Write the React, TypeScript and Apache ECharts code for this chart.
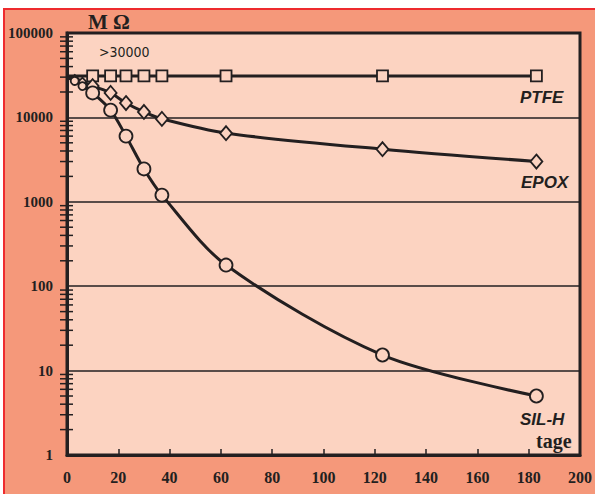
import React, { useEffect, useRef } from "react";
import * as echarts from "echarts";

const X_TICKS_MAX = 200;
const Y_LABELS = ["1", "10", "100", "1000", "10000", "100000"];

const PTFE_DAYS = [0, 10, 17, 23, 30, 37, 62, 123, 183];
const PTFE_VALUES = [31000, 31000, 31000, 31000, 31000, 31000, 31000, 31000, 31000];

const EPOX_DAYS = [0, 3, 6, 10, 17, 23, 30, 37, 62, 123, 183];
const EPOX_VALUES = [30000, 28500, 26500, 23500, 19500, 14800, 11600, 9600, 6500, 4200, 3000];

const SIL_DAYS = [0, 3, 6, 10, 17, 23, 30, 37, 62, 123, 183];
const SIL_VALUES = [30000, 27000, 23500, 19500, 12200, 6000, 2450, 1200, 178, 15.3, 5.0];

const SMALL_DAYS = [3, 6];

const MINOR_TICKS: number[] = [];
for (let k = 0; k < 5; k++) {
  for (let m = 2; m <= 9; m++) MINOR_TICKS.push(m * Math.pow(10, k));
}

const INK = "#231F20";
const INNER = "#FCD3C1";
const OUTER = "#F5987A";

function build(days: number[], vals: number[]) {
  return days.map((d, i) => {
    const item: any = { value: [d, vals[i]] };
    if (i === 0) item.symbol = "none";
    if (SMALL_DAYS.includes(d)) item.symbolSize = 8;
    return item;
  });
}

export default function App() {
  const ref = useRef<HTMLDivElement>(null);
  useEffect(() => {
    document.body.style.margin = "0";
    const chart = echarts.init(ref.current!, undefined, { renderer: "svg" });
    const serif = "'Liberation Serif', 'Times New Roman', serif";
    const sansBI = "'Liberation Sans', Arial, sans-serif";
    const symStyle = { color: INNER, borderColor: INK, borderWidth: 1.8 };
    chart.setOption({
      animation: false,
      backgroundColor: "transparent",
      grid: {
        left: 67,
        top: 33,
        right: 12,
        bottom: 39,
        show: true,
        backgroundColor: INNER,
        borderColor: INK,
        borderWidth: 3,
      },
      xAxis: {
        type: "value",
        min: 0,
        max: X_TICKS_MAX,
        interval: 20,
        axisLine: { show: true, lineStyle: { color: INK, width: 3 } },
        axisTick: { show: true, inside: true, length: 6, lineStyle: { color: INK, width: 1.5 } },
        axisLabel: {
          color: INK,
          fontFamily: serif,
          fontWeight: "bold",
          fontSize: 16,
          margin: 14,
        },
        splitLine: { show: false },
      },
      yAxis: {
        type: "log",
        logBase: 10,
        min: 1,
        max: 100000,
        axisLine: { show: true, lineStyle: { color: INK, width: 3 } },
        axisTick: { show: false },
        axisLabel: {
          color: INK,
          fontFamily: serif,
          fontWeight: "bold",
          fontSize: 15,
          margin: 14,
          formatter: (v: number) => {
            const s = String(Math.round(v));
            return Y_LABELS.includes(s) ? s : "";
          },
        },
        splitLine: { show: true, lineStyle: { color: INK, width: 1.5 } },
      },
      series: [
        {
          type: "custom",
          clip: false,
          silent: true,
          z: 5,
          data: MINOR_TICKS.map((v) => [0, v]),
          renderItem: (params: any, api: any) => {
            const p = api.coord([0, api.value(1)]);
            return {
              type: "line",
              shape: { x1: p[0] - 7, y1: p[1], x2: p[0] + 6, y2: p[1] },
              style: { stroke: INK, lineWidth: 1.5 },
            };
          },
        },
        {
          name: "PTFE",
          type: "line",
          data: build(PTFE_DAYS, PTFE_VALUES),
          symbol: "rect",
          symbolSize: 11,
          showAllSymbol: true,
          lineStyle: { color: INK, width: 3 },
          itemStyle: symStyle,
          z: 3,
        },
        {
          name: "EPOX",
          type: "line",
          smooth: 0.3,
          data: build(EPOX_DAYS, EPOX_VALUES),
          symbol: "diamond",
          symbolSize: [12, 14],
          showAllSymbol: true,
          lineStyle: { color: INK, width: 3 },
          itemStyle: symStyle,
          z: 3,
        },
        {
          name: "SIL-H",
          type: "line",
          smooth: 0.3,
          data: build(SIL_DAYS, SIL_VALUES),
          symbol: "circle",
          symbolSize: 13,
          showAllSymbol: true,
          lineStyle: { color: INK, width: 3 },
          itemStyle: symStyle,
          z: 3,
        },
      ],
      graphic: [
        {
          type: "text",
          left: 88,
          top: 11,
          style: { text: "M Ω", fill: INK, font: `bold 21px ${serif}` },
        },
        {
          type: "text",
          left: 99,
          top: 45,
          style: {
            text: ">30000",
            fill: INK,
            font: `14px 'DejaVu Sans Condensed', 'Liberation Sans Narrow', sans-serif`,
          },
        },
        {
          type: "text",
          left: 520,
          top: 89,
          style: { text: "PTFE", fill: INK, font: `italic bold 17px ${sansBI}` },
        },
        {
          type: "text",
          left: 521,
          top: 174,
          style: { text: "EPOX", fill: INK, font: `italic bold 17px ${sansBI}` },
        },
        {
          type: "text",
          left: 520,
          top: 411,
          style: { text: "SIL-H", fill: INK, font: `italic bold 17px ${sansBI}` },
        },
        {
          type: "text",
          left: 536,
          top: 431,
          style: { text: "tage", fill: INK, font: `bold 20px ${serif}` },
        },
      ],
    });
    return () => chart.dispose();
  }, []);
  return (
    <div style={{ position: "relative", width: 595, height: 494, background: "#ffffff" }}>
      <div
        style={{
          position: "absolute",
          left: 3,
          top: 8,
          right: 0,
          bottom: 0,
          background: OUTER,
          borderTop: "2px solid #EE2B2E",
          borderLeft: "2px solid #EE2B2E",
        }}
      />
      <div ref={ref} style={{ position: "absolute", left: 0, top: 0, width: 595, height: 494 }} />
    </div>
  );
}
